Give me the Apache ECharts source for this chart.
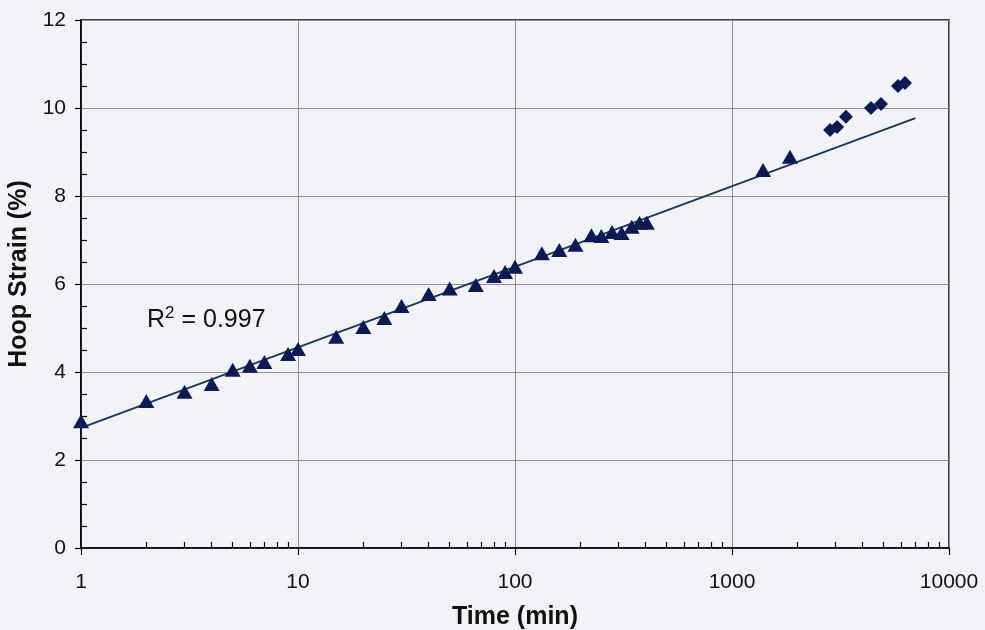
<!DOCTYPE html>
<html>
<head>
<meta charset="utf-8">
<script src="https://cdn.jsdelivr.net/npm/echarts@6/dist/echarts.min.js"></script>
<style>
html,body{margin:0;padding:0;background:#f1f2f5;}
#c{width:985px;height:630px;}
</style>
</head>
<body>
<div id="c"></div>
<script>
// Measured data (Time in min, Hoop strain in %)
var triTime   = [1, 2, 3, 4, 5, 6, 7, 9, 10, 15, 20, 25, 30, 40, 50, 66, 80, 90, 100, 133, 160, 190, 225, 250, 280, 310, 345, 375, 405, 1390, 1850];
var triStrain = [2.88, 3.34, 3.55, 3.73, 4.05, 4.14, 4.23, 4.41, 4.52, 4.80, 5.02, 5.23, 5.50, 5.77, 5.90, 5.98, 6.18, 6.27, 6.39, 6.70, 6.77, 6.89, 7.11, 7.09, 7.18, 7.16, 7.30, 7.39, 7.39, 8.59, 8.89];
var diaTime   = [2830, 3050, 3350, 4370, 4860, 5820, 6270];
var diaStrain = [9.50, 9.57, 9.80, 10.00, 10.09, 10.50, 10.57];
var fitTime   = [1, 7000];
var fitStrain = [2.73, 9.77];
var xMinorTicks = [2,3,4,5,6,7,8,9,20,30,40,50,60,70,80,90,200,300,400,500,600,700,800,900,2000,3000,4000,5000,6000,7000,8000,9000];
var yMinorTicks = [0.5,1,1.5,2.5,3,3.5,4.5,5,5.5,6.5,7,7.5,8.5,9,9.5,10.5,11,11.5];
var r2Text = '0.997';

function pairs(a, b){ return a.map(function(v,i){ return [v, b[i]]; }); }

var FONT = 'Liberation Sans, Arial, sans-serif';
var chart = echarts.init(document.getElementById('c'));
chart.setOption({
  backgroundColor: '#f2f3f6',
  animation: false,
  grid: {left: 81, right: 36, top: 20, bottom: 82, containLabel: false, outerBoundsMode: 'none',
         show: true, borderColor: '#000', borderWidth: 1.5, backgroundColor: 'transparent'},
  title: {
    left: 142, top: 300,
    text: '{a|R}{b|2}{a| = ' + r2Text + '}',
    textStyle: {
      fontWeight: 'normal',
      rich: {
        a: {fontSize: 25, fontWeight: 'normal', fontFamily: FONT, color: '#111', lineHeight: 30},
        b: {fontSize: 17, fontWeight: 'normal', fontFamily: FONT, color: '#111', lineHeight: 12, verticalAlign: 'top'}
      }
    }
  },
  xAxis: [{
    type: 'log', logBase: 10, min: 1, max: 10000,
    name: 'Time (min)', nameLocation: 'middle', nameGap: 57,
    nameTextStyle: {fontSize: 25, fontWeight: 'bold', fontFamily: FONT, color: '#111'},
    axisLine: {lineStyle: {color: '#000', width: 1.5}},
    axisTick: {show: true, inside: false, length: 7, lineStyle: {color: '#000', width: 1.2}},
    axisLabel: {fontSize: 21, fontFamily: FONT, color: '#111', margin: 24, formatter: function(v){ return String(Math.round(v)); }},
    splitLine: {show: true, lineStyle: {color: '#8c8c8c', width: 1}},
    minorTick: {show: false}
  }, {
    type: 'log', logBase: 10, min: 1, max: 10000, position: 'bottom',
    axisLine: {show: false},
    axisTick: {show: true, inside: true, length: 6, customValues: xMinorTicks, lineStyle: {color: '#000', width: 1.2}},
    axisLabel: {show: false},
    splitLine: {show: false}
  }],
  yAxis: [{
    type: 'value', min: 0, max: 12, interval: 2,
    name: 'Hoop Strain (%)', nameLocation: 'middle', nameGap: 48,
    nameTextStyle: {fontSize: 25, fontWeight: 'bold', fontFamily: FONT, color: '#111', padding: [0, 0, 0, 20]},
    axisLine: {show: true, lineStyle: {color: '#000', width: 1.5}},
    axisTick: {show: true, inside: false, length: 6, lineStyle: {color: '#000', width: 1.2}},
    axisLabel: {fontSize: 21, fontFamily: FONT, color: '#111', margin: 15},
    splitLine: {show: true, lineStyle: {color: '#8c8c8c', width: 1}}
  }, {
    type: 'value', min: 0, max: 12, position: 'left',
    axisLine: {show: false},
    axisTick: {show: true, inside: true, length: 6, customValues: yMinorTicks, lineStyle: {color: '#000', width: 1.2}},
    axisLabel: {show: false},
    splitLine: {show: false}
  }],
  series: [{
    type: 'line', name: 'fit', data: pairs(fitTime, fitStrain),
    showSymbol: false, symbol: 'none',
    lineStyle: {color: '#183a58', width: 2}, z: 2
  }, {
    type: 'scatter', name: 'tri', data: pairs(triTime, triStrain),
    symbol: 'triangle', symbolSize: [16, 14],
    itemStyle: {color: '#0b1a55', opacity: 1}, z: 3
  }, {
    type: 'scatter', name: 'dia', data: pairs(diaTime, diaStrain),
    symbol: 'diamond', symbolSize: [14, 14],
    itemStyle: {color: '#0b1a55', opacity: 1}, z: 3
  }]
});
</script>
</body>
</html>
